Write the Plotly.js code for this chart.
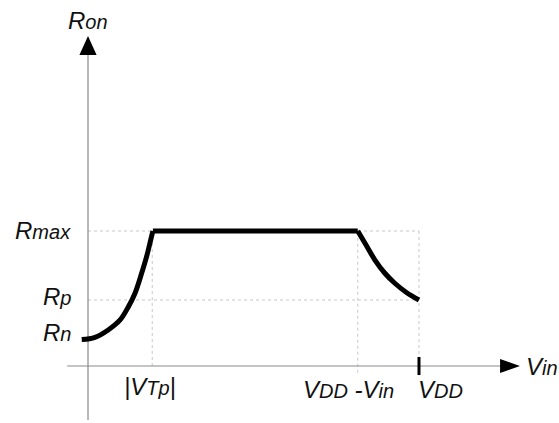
<!DOCTYPE html>
<html>
<head>
<meta charset="utf-8">
<script src="https://cdn.plot.ly/plotly-3.0.1.min.js"></script>
<style>html,body{margin:0;padding:0;background:#fff;}#chart{width:559px;height:423px;}</style>
</head>
<body>
<div id="chart"></div>
<script>
// ---- data (x in units of VDD, y in units of Rmax) ----
const xTickVals = [0.194, 0.815, 1.0];            // |VTp|, VDD-Vin, VDD
const xTickLabels = ['|VTp|', 'VDD - Vin', 'VDD'];
const yTickVals = [0.193, 0.489, 1.0];            // Rn, Rp, Rmax
const yTickLabels = ['Rn', 'Rp', 'Rmax'];

const riseX = [-0.019, 0.021, 0.061, 0.097, 0.122, 0.142, 0.162, 0.177, 0.190, 0.196];
const riseY = [0.196, 0.212, 0.267, 0.341, 0.439, 0.539, 0.687, 0.810, 0.940, 1.0];
const flatX = [0.196, 0.815];
const flatY = [1.0, 1.0];
const fallX = [0.815, 0.837, 0.867, 0.897, 0.927, 0.963, 1.0];
const fallY = [1.0, 0.909, 0.785, 0.687, 0.613, 0.543, 0.489];

// axis extents
const xAxisFrom = -0.063, xAxisTo = 1.245, xArrowTip = 1.305;
const yAxisFrom = -0.40, yAxisTo = 2.304, yArrowTip = 2.444;

const VTp = xTickVals[0], VDDmVin = xTickVals[1], VDD = xTickVals[2];
const Rn = yTickVals[0], Rp = yTickVals[1], Rmax = yTickVals[2];

const lineStyle = {color: '#000', width: 5};
const traces = [
  {x: riseX, y: riseY, mode: 'lines', line: Object.assign({shape: 'spline', smoothing: 1}, lineStyle), hoverinfo: 'skip'},
  {x: flatX, y: flatY, mode: 'lines', line: Object.assign({shape: 'linear'}, lineStyle), hoverinfo: 'skip'},
  {x: fallX, y: fallY, mode: 'lines', line: Object.assign({shape: 'spline', smoothing: 1}, lineStyle), hoverinfo: 'skip'}
];

const grid = {color: '#c8c8c8', width: 1, dash: 'dot'};
const axisLine = {color: '#8a8a8a', width: 1.2};
const shapes = [
  // dotted guide lines
  {type: 'line', xref: 'x', yref: 'y', x0: 0, x1: VDD, y0: Rmax, y1: Rmax, line: grid, layer: 'below'},
  {type: 'line', xref: 'x', yref: 'y', x0: 0, x1: VDD, y0: Rp, y1: Rp, line: grid, layer: 'below'},
  {type: 'line', xref: 'x', yref: 'y', x0: VTp, x1: VTp, y0: 0, y1: Rmax, line: grid, layer: 'below'},
  {type: 'line', xref: 'x', yref: 'y', x0: VDDmVin, x1: VDDmVin, y0: -0.05, y1: Rmax, line: grid, layer: 'below'},
  {type: 'line', xref: 'x', yref: 'y', x0: VDD, x1: VDD, y0: 0, y1: Rmax, line: grid, layer: 'below'},
  // axes
  {type: 'line', xref: 'x', yref: 'y', x0: xAxisFrom, x1: xAxisTo + 0.01, y0: 0, y1: 0, line: axisLine, layer: 'below'},
  {type: 'line', xref: 'x', yref: 'y', x0: 0, x1: 0, y0: yAxisFrom, y1: yAxisTo + 0.01, line: axisLine, layer: 'below'},
  // arrowheads
  {type: 'path', xref: 'x', yref: 'y',
   path: `M ${xAxisTo} ${0.052} L ${xArrowTip} 0 L ${xAxisTo} ${-0.052} Z`,
   fillcolor: '#000', line: {width: 0}},
  {type: 'path', xref: 'x', yref: 'y',
   path: `M ${-0.026} ${yAxisTo} L 0 ${yArrowTip} L ${0.026} ${yAxisTo} Z`,
   fillcolor: '#000', line: {width: 0}},
  // VDD tick
  {type: 'line', xref: 'x', yref: 'y', x0: VDD, x1: VDD, y0: -0.067, y1: 0.067, line: {color: '#000', width: 3}}
];

const font = {family: 'Liberation Sans, Arial, sans-serif', size: 24, color: '#111'};
function rich(main, sub) { return main + (sub ? '<span style="font-size:20px">' + sub + '</span>' : ''); }

const annotations = [
  {x: 0, y: 2.56, xref: 'x', yref: 'y', text: '<i>' + rich('R', 'on') + '</i>', showarrow: false, xanchor: 'center', yanchor: 'middle', font: font},
  {x: xArrowTip, y: 0, xref: 'x', yref: 'y', xshift: 4, text: '<i>' + rich('V', 'in') + '</i>', showarrow: false, xanchor: 'left', yanchor: 'middle', font: font},
  // y levels
  {x: 0, y: Rmax, xref: 'x', yref: 'y', xshift: -15, yshift: 1, text: '<i>' + rich('R', yTickLabels[2].slice(1)) + '</i>', showarrow: false, xanchor: 'right', yanchor: 'middle', font: font},
  {x: 0, y: Rp, xref: 'x', yref: 'y', xshift: -15, yshift: 3, text: '<i>' + rich('R', yTickLabels[1].slice(1)) + '</i>', showarrow: false, xanchor: 'right', yanchor: 'middle', font: font},
  {x: 0, y: Rn, xref: 'x', yref: 'y', xshift: -15, yshift: 7, text: '<i>' + rich('R', yTickLabels[0].slice(1)) + '</i>', showarrow: false, xanchor: 'right', yanchor: 'middle', font: font},
  // x levels
  {x: VTp, y: 0, xref: 'x', yref: 'y', xshift: -2, yshift: -5, text: '<i>|' + rich('V', 'Tp') + '|</i>', showarrow: false, xanchor: 'center', yanchor: 'top', font: font},
  {x: VDDmVin, y: 0, xref: 'x', yref: 'y', xshift: -9, yshift: -8, text: '<i>' + rich('V', 'DD') + ' -' + rich('V', 'in') + '</i>', showarrow: false, xanchor: 'center', yanchor: 'top', font: font},
  {x: VDD, y: 0, xref: 'x', yref: 'y', xshift: -3, yshift: -8, text: '<i>' + rich('V', 'DD') + '</i>', showarrow: false, xanchor: 'left', yanchor: 'top', font: font}
];

const layout = {
  width: 559, height: 423,
  margin: {l: 0, r: 0, t: 0, b: 0},
  paper_bgcolor: '#fff', plot_bgcolor: '#fff',
  showlegend: false,
  xaxis: {visible: false, range: [-0.2659, 1.4230], fixedrange: true},
  yaxis: {visible: false, range: [-0.4222, 2.7111], fixedrange: true},
  shapes: shapes,
  annotations: annotations
};

Plotly.newPlot('chart', traces, layout, {staticPlot: true, displayModeBar: false});
</script>
</body>
</html>
